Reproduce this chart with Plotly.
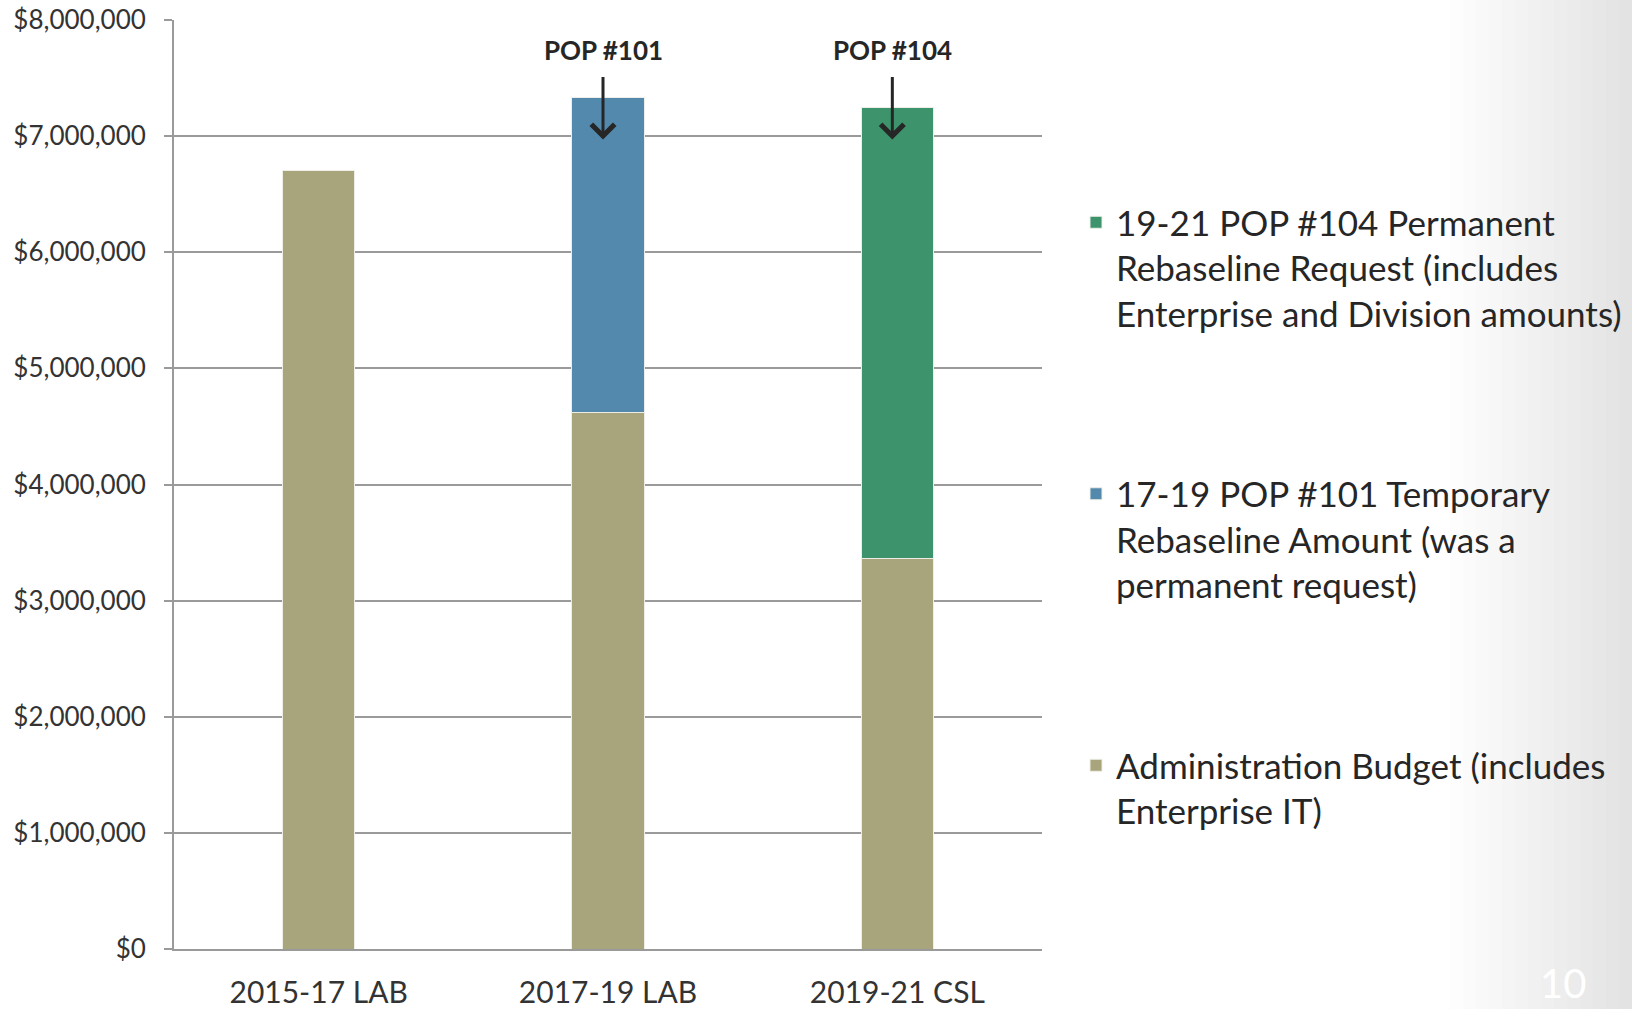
import plotly.graph_objects as go

categories = ["2015-17 LAB", "2017-19 LAB", "2019-21 CSL"]
admin_budget = [6700000, 4620000, 3360000]
pop101_temp = [None, 2710000, None]
pop104_perm = [None, None, 3890000]

series_names = [
    "Administration Budget (includes<br>Enterprise IT)",
    "17-19 POP #101 Temporary<br>Rebaseline Amount (was a<br>permanent request)",
    "19-21 POP #104 Permanent<br>Rebaseline Request (includes<br>Enterprise and Division amounts)",
]
colors = ["#A8A57C", "#5289AC", "#3D936B"]

y_tick_vals = [0, 1000000, 2000000, 3000000, 4000000, 5000000, 6000000, 7000000, 8000000]
y_tick_text = ["$0", "$1,000,000", "$2,000,000", "$3,000,000", "$4,000,000",
               "$5,000,000", "$6,000,000", "$7,000,000", "$8,000,000"]

callouts = [("2017-19 LAB", 6970000, "POP #101"), ("2019-21 CSL", 6970000, "POP #104")]

FONT = "Lato"
TXT = "#262626"
GRID = "#9a9a9a"

W, H = 1632, 1009
L, T, R, B = 174, 20, 1042, 949
PW, PH = R - L, B - T

fig = go.Figure()
for vals, name, col, grp, rank in zip([admin_budget, pop101_temp, pop104_perm], series_names, colors,
                                      ["g1", "g2", "g3"], [3, 2, 1]):
    fig.add_trace(go.Bar(
        x=categories, y=vals, name=name, legendgroup=grp, legendrank=rank,
        marker=dict(color=col, line=dict(color="#EEEEE6", width=1)),
    ))

for cat, yv, txt in callouts:
    fig.add_annotation(
        x=cat, y=yv, xref="x", yref="y", text="<b>%s</b>" % txt,
        showarrow=True, ax=0, ay=-90, xshift=-5,
        arrowhead=4, arrowsize=1.5, arrowwidth=3, arrowcolor=TXT,
        startstandoff=10,
        font=dict(family=FONT, size=26, color=TXT),
    )

# subtle slide background gradient on right side
NSTEP = 14
for k in range(NSTEP):
    x0 = 1450 + k * 13
    fig.add_shape(type="rect", xref="paper", yref="paper",
                  x0=(x0 - L) / PW, x1=(W + 20 - L) / PW,
                  y0=(B - H - 20) / PH, y1=(B + 20) / PH,
                  fillcolor="rgba(0,0,0,0.006)", line=dict(width=0),
                  layer="below")

fig.add_annotation(x=(1563 - L) / PW, y=(B - 983) / PH,
                   xref="paper", yref="paper", text="10", showarrow=False,
                   xanchor="center", yanchor="middle",
                   font=dict(family=FONT, size=40, color="#ffffff"))

fig.update_layout(
    barmode="stack",
    bargap=0.75,
    width=W, height=H,
    margin=dict(l=L, r=W - R, t=T, b=H - B, autoexpand=False),
    plot_bgcolor="white", paper_bgcolor="white",
    font=dict(family=FONT, color=TXT),
    legend=dict(
        traceorder="grouped",
        tracegroupgap=132,
        valign="top",
        maxheight=1000,
        xref="container", yref="container",
        x=1076 / W, y=1 - 193 / H, xanchor="left", yanchor="top",
        font=dict(family=FONT, size=35, color=TXT),
        bgcolor="rgba(0,0,0,0)",
    ),
    xaxis=dict(
        showline=True, linecolor=GRID, linewidth=2,
        ticks="", ticklabelstandoff=16, automargin=False,
        tickfont=dict(family=FONT, size=30, color="#333333"),
        showgrid=False,
    ),
    yaxis=dict(
        range=[0, 8000000], automargin=False,
        tickvals=y_tick_vals, ticktext=y_tick_text,
        ticklabeloverflow="allow",
        showline=True, linecolor=GRID, linewidth=2,
        ticks="outside", ticklen=8, tickwidth=2, tickcolor=GRID,
        ticklabelstandoff=13,
        tickfont=dict(family=FONT, size=26, color="#333333"),
        showgrid=True, gridcolor=GRID, gridwidth=2,
        zeroline=False,
    ),
)

fig.write_html("out.html",
               config={"displayModeBar": False},
               post_script="document.body.style.margin='0';")
